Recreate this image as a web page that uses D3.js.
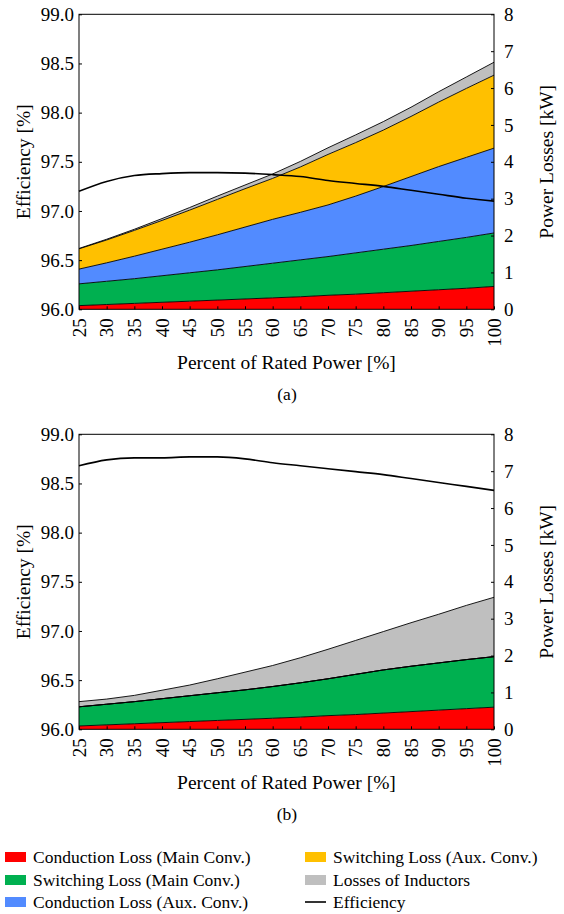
<!DOCTYPE html>
<html><head><meta charset="utf-8">
<script src="https://cdn.jsdelivr.net/npm/d3@7"></script>
<style>
body{margin:0;background:#fff}
</style>
</head><body><svg id="c" width="564" height="914"></svg>
<script>
// ---------- data ----------
const percent = [25,30,35,40,45,50,55,60,65,70,75,80,85,90,95,100];
const xTickLabels = [25,30,35,40,45,50,55,60,65,70,75,80,85,90,95,100];
const effTicks = [96.0,96.5,97.0,97.5,98.0,98.5,99.0];
const lossTicks = [0,1,2,3,4,5,6,7,8];

const seriesNames = ["Conduction Loss (Main Conv.)","Switching Loss (Main Conv.)","Conduction Loss (Aux. Conv.)",
                     "Switching Loss (Aux. Conv.)","Losses of Inductors","Efficiency"];
const seriesColors = ["#ff0000","#00b050","#528bff","#ffc000","#bfbfbf","#000000"];

// panel (a) losses in kW
const condMainA = [0.10,0.13,0.16,0.19,0.22,0.25,0.28,0.31,0.34,0.38,0.41,0.45,0.49,0.53,0.57,0.62];
const swMainA   = [0.59,0.63,0.67,0.72,0.77,0.82,0.88,0.94,1.00,1.05,1.12,1.18,1.24,1.31,1.38,1.45];
const condAuxA  = [0.40,0.50,0.61,0.72,0.83,0.95,1.07,1.19,1.29,1.40,1.54,1.70,1.87,2.03,2.17,2.30];
const swAuxA    = [0.55,0.62,0.70,0.78,0.87,0.96,1.04,1.11,1.23,1.37,1.45,1.53,1.63,1.75,1.87,1.98];
const inductA   = [0.01,0.02,0.03,0.05,0.07,0.09,0.10,0.12,0.15,0.18,0.21,0.23,0.25,0.28,0.31,0.35];
const effA      = [97.20,97.30,97.36,97.38,97.39,97.39,97.385,97.37,97.35,97.31,97.28,97.25,97.21,97.17,97.13,97.10];

// panel (b) losses in kW
const condMainB = [0.09,0.12,0.15,0.18,0.21,0.24,0.27,0.30,0.33,0.37,0.40,0.44,0.48,0.52,0.56,0.60];
const swMainB   = [0.52,0.56,0.60,0.65,0.70,0.75,0.80,0.86,0.93,1.00,1.09,1.17,1.23,1.28,1.33,1.37];
const condAuxB  = [0,0,0,0,0,0,0,0,0,0,0,0,0,0,0,0];
const swAuxB    = [0,0,0,0,0,0,0,0,0,0,0,0,0,0,0,0];
const inductB   = [0.14,0.14,0.17,0.23,0.29,0.38,0.48,0.57,0.68,0.80,0.92,1.04,1.18,1.32,1.47,1.61];
const effB      = [98.68,98.74,98.76,98.76,98.77,98.77,98.75,98.71,98.68,98.65,98.62,98.59,98.55,98.51,98.47,98.43];

// ---------- drawing ----------
const FONT = '"Liberation Serif"';
const svg = d3.select("#c");
const L = 79, R = 494, PH = 295;
const FS_TICK = 19, FS_TITLE = 19.5;

function panel(top, layers, eff, caption){
  const g = svg.append("g");
  const x = d3.scaleLinear().domain([25,100]).range([L,R]);
  const yE = d3.scaleLinear().domain([96,99]).range([top+PH, top]);
  const yP = d3.scaleLinear().domain([0,8]).range([top+PH, top]);

  const keys = ["k0","k1","k2","k3","k4"];
  const rows = percent.map((p,i)=>{const o={p}; layers.forEach((a,j)=>o[keys[j]]=a[i]); return o;});
  const stack = d3.stack().keys(keys)(rows);

  const area = d3.area().x(d=>x(d.data.p)).y0(d=>yP(d[0])).y1(d=>yP(d[1]));
  const topLine = d3.line().x(d=>x(d.data.p)).y(d=>yP(d[1]));

  stack.forEach((s,j)=>{
    g.append("path").attr("d",area(s)).attr("fill",seriesColors[j]).attr("stroke","none");
  });
  stack.forEach((s,j)=>{
    g.append("path").attr("d",topLine(s)).attr("fill","none").attr("stroke","#000").attr("stroke-width",0.9);
  });

  g.append("path").datum(percent.map((p,i)=>[p,eff[i]]))
    .attr("d",d3.line().curve(d3.curveMonotoneX).x(d=>x(d[0])).y(d=>yE(d[1])))
    .attr("fill","none").attr("stroke","#000").attr("stroke-width",1.6);

  g.append("rect").attr("x",L).attr("y",top).attr("width",R-L).attr("height",PH)
    .attr("fill","none").attr("stroke","#000").attr("stroke-width",1);

  const la = g.append("g").attr("transform",`translate(${L},0)`)
    .call(d3.axisLeft(yE).tickValues(effTicks).tickFormat(d3.format(".1f")).tickSizeInner(-3).tickSizeOuter(0).tickPadding(5));
  la.select(".domain").remove();
  la.selectAll("text").attr("font-size",FS_TICK).attr("fill","#000").style("font-family",FONT);
  la.selectAll("line").attr("stroke","#000");

  const ra = g.append("g").attr("transform",`translate(${R},0)`)
    .call(d3.axisRight(yP).tickValues(lossTicks).tickFormat(d3.format("d")).tickSizeInner(-3).tickSizeOuter(0).tickPadding(10));
  ra.select(".domain").remove();
  ra.selectAll("text").attr("font-size",FS_TICK).attr("fill","#000").style("font-family",FONT);

  const ba = g.append("g").attr("transform",`translate(0,${top+PH})`)
    .call(d3.axisBottom(x).tickValues(xTickLabels).tickFormat(d3.format("d")).tickSizeInner(-3).tickSizeOuter(0));
  ba.select(".domain").remove();
  ba.selectAll("text").attr("font-size",FS_TICK).attr("fill","#000").style("font-family",FONT)
    .attr("transform","rotate(-90)").attr("text-anchor","end")
    .attr("x",-9).attr("y",0).attr("dy","0.33em");

  g.append("text").attr("transform",`translate(30,${top+PH/2}) rotate(-90)`).style("font-family",FONT)
    .attr("text-anchor","middle").attr("font-size",FS_TITLE).text("Efficiency [%]");
  g.append("text").attr("transform",`translate(553,${top+PH/2}) rotate(-90)`).style("font-family",FONT)
    .attr("text-anchor","middle").attr("font-size",FS_TITLE).text("Power Losses [kW]");
  g.append("text").attr("x",(L+R)/2).attr("y",top+PH+60).style("font-family",FONT)
    .attr("text-anchor","middle").attr("font-size",FS_TITLE).text("Percent of Rated Power [%]");
  g.append("text").attr("x",287).attr("y",top+PH+91).style("font-family",FONT)
    .attr("text-anchor","middle").attr("font-size",17.5).text(caption);
}

panel(14.3, [condMainA,swMainA,condAuxA,swAuxA,inductA], effA, "(a)");
panel(434.3,[condMainB,swMainB,condAuxB,swAuxB,inductB], effB, "(b)");

// legend
const lg = svg.append("g");
const colX = [5,305], rowY = [857,880,902];
seriesNames.forEach((n,i)=>{
  const cx = colX[Math.floor(i/3)], cy = rowY[i%3];
  if(i<5){
    lg.append("rect").attr("x",cx).attr("y",cy-5).attr("width",21).attr("height",10).attr("fill",seriesColors[i]);
  } else {
    lg.append("line").attr("x1",cx).attr("x2",cx+21).attr("y1",cy).attr("y2",cy).attr("stroke","#000").attr("stroke-width",1.6);
  }
  lg.append("text").attr("x",cx+28).attr("y",cy).attr("dy","0.35em").attr("font-size",17.5).style("font-family",FONT).text(n);
});
</script></body></html>
